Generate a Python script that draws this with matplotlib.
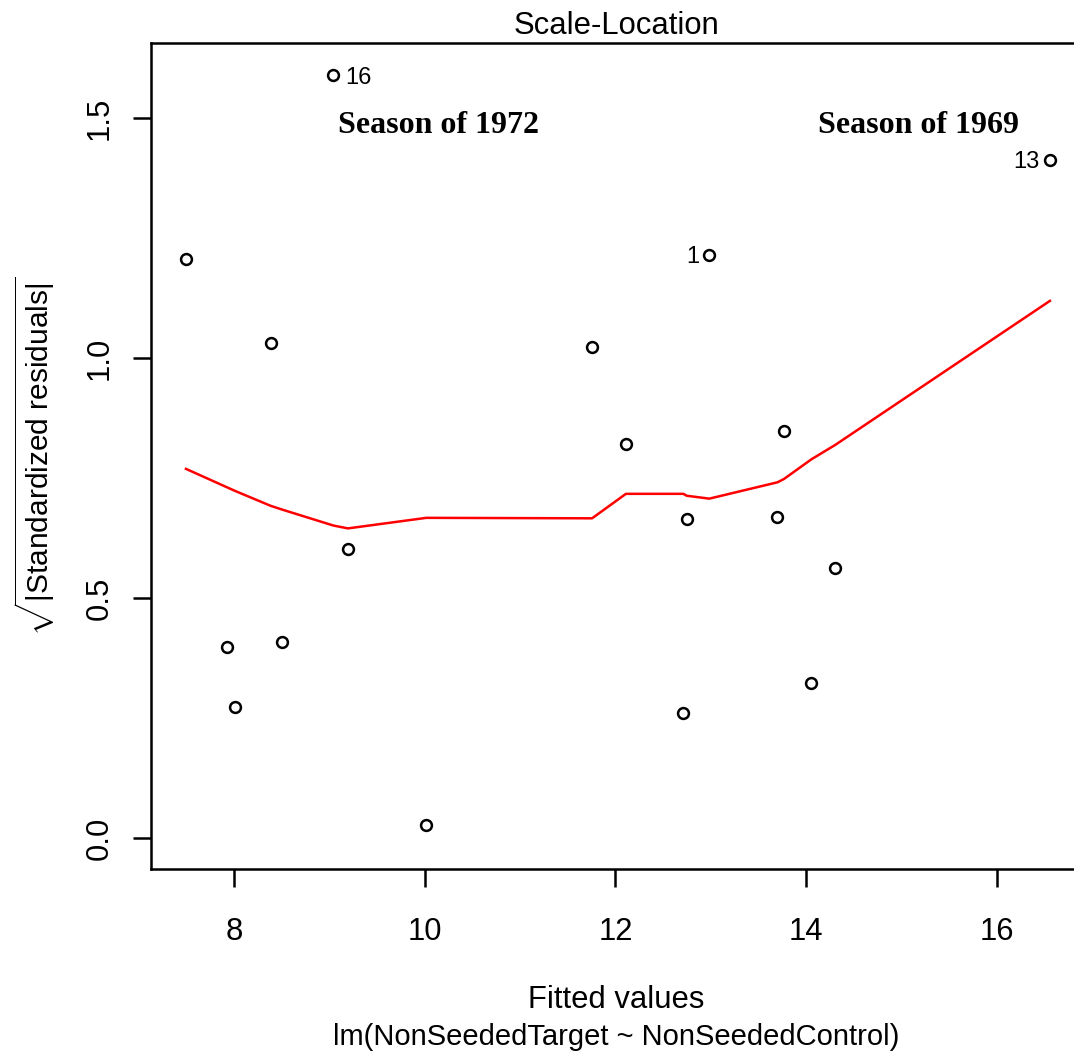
# coding:utf-8
# lm(NonSeededTarget ~ NonSeededControl) の Scale-Location プロット
# 当てはめ値 vs sqrt(|標準化残差|)、赤線は lowess 平滑化

import numpy as np
import matplotlib.pyplot as plt

#[data]
fitted = [7.494, 7.92, 8.01, 8.383, 8.506, 9.04, 9.193, 10.016, 11.755,
          12.11, 12.713, 12.748, 12.985, 13.70, 13.769, 14.057, 14.307, 16.559]
sqrt_resid = [1.207, 0.397, 0.2735, 1.031, 0.409, 1.590, 0.602, 0.0265, 1.022,
              0.821, 0.260, 0.664, 1.215, 0.669, 0.848, 0.323, 0.562, 1.412]
smooth = [0.769, 0.731, 0.723, 0.692, 0.684, 0.651, 0.645, 0.667, 0.666,
          0.717, 0.717, 0.713, 0.707, 0.741, 0.748, 0.789, 0.819, 1.119]

# 外れ値ラベル (配列中の位置, 観測番号)
label_pos = [5, 12, 17]
label_text = ["16", "1", "13"]

season_text = ["Season of 1972", "Season of 1969"]
season_x = [10.14, 15.18]
season_y = [1.485, 1.485]

xticks = [8, 10, 12, 14, 16]
yticks = [0.0, 0.5, 1.0, 1.5]

#[style]
plt.rcParams['font.family'] = ['Liberation Sans', 'DejaVu Sans']
plt.rcParams['mathtext.fontset'] = 'custom'
plt.rcParams['mathtext.rm'] = 'Liberation Sans'
plt.rcParams['mathtext.it'] = 'Liberation Sans:italic'
fs = 22.3


if __name__ == "__main__":
    fig = plt.figure(figsize=(10.74, 10.55), dpi=100)
    ax = fig.add_axes([0.1406, 0.1760, 0.8669, 0.7828])

    ax.plot(fitted, sqrt_resid, 'o', mfc='none', mec='black', ms=7.8, mew=1.8)
    ax.plot(fitted, smooth, color='red', lw=1.8)

    # 外れ値の番号
    for i, t in zip(label_pos, label_text):
        if fitted[i] < 10:
            ax.annotate(t, (fitted[i], sqrt_resid[i]), xytext=(12, -3),
                        textcoords='offset pixels', ha='left', va='center', fontsize=17)
        else:
            ax.annotate(t, (fitted[i], sqrt_resid[i]), xytext=(-10, -2),
                        textcoords='offset pixels', ha='right', va='center', fontsize=17)

    for t, x, y in zip(season_text, season_x, season_y):
        ax.text(x, y, t, ha='center', va='center', fontsize=23,
                fontweight='bold', family=['Liberation Serif', 'DejaVu Serif'])

    ax.set_xlim(7.127, 16.896)
    ax.set_ylim(-0.0652, 1.6552)
    ax.set_xticks(xticks)
    ax.set_xticklabels([str(v) for v in xticks])
    ax.set_yticks(yticks)
    ax.set_yticklabels(["%.1f" % v for v in yticks], rotation=90, va='center')

    for s in ax.spines.values():
        s.set_linewidth(1.8)
    ax.tick_params(direction='out', length=13, width=1.8, labelsize=fs)
    ax.tick_params(axis='x', pad=21)
    ax.tick_params(axis='y', pad=13)

    ax.set_title('Scale-Location', fontsize=fs, pad=7)
    ax.set_ylabel(r'$\sqrt{|\mathrm{Standardized\ residuals}|}$', fontsize=21.5, labelpad=20)
    fig.text(0.5740, 1 - 1000 / 1055, 'Fitted values', ha='center', va='center', fontsize=fs)
    fig.text(0.5740, 1 - 1037 / 1055, 'lm(NonSeededTarget ~ NonSeededControl)',
             ha='center', va='center', fontsize=21)

    plt.savefig('out.png', dpi=100)
